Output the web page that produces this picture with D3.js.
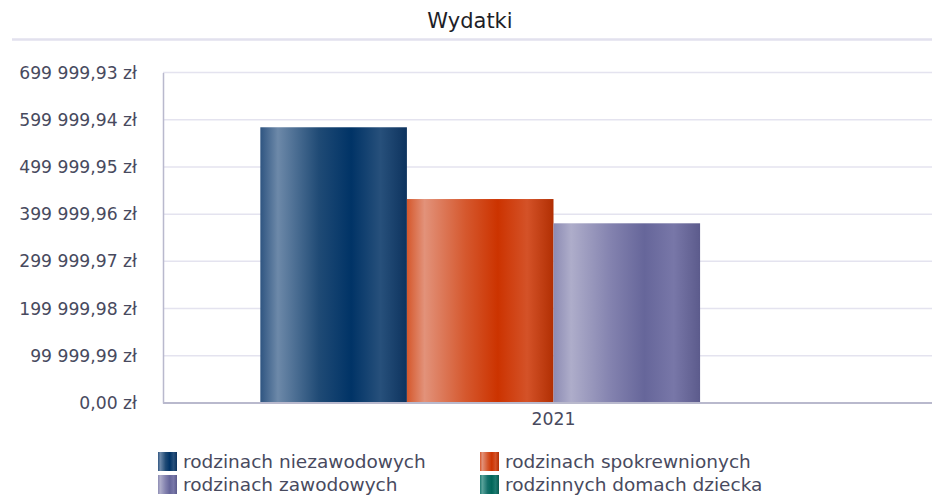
<!DOCTYPE html>
<html>
<head>
<meta charset="utf-8">
<script src="https://cdn.jsdelivr.net/npm/d3@7"></script>
<style>
  body { margin: 0; background: #fff; }
  svg { font-family: "DejaVu Sans", "Open Sans", sans-serif; }
</style>
</head>
<body>
<script>
const categories = ['2021'];
const seriesNames = ['rodzinach niezawodowych', 'rodzinach spokrewnionych', 'rodzinach zawodowych', 'rodzinnych domach dziecka'];
const values2021 = [584000, 432000, 380600, 0];
const yTicks = [0, 99999.99, 199999.98, 299999.97, 399999.96, 499999.95, 599999.94, 699999.93];

// gradient stops per series (left -> right)
const palette = [
  ['#2f5581', '#6d89a9', '#1f4a75', '#003366', '#27507b', '#0d335e'],
  ['#d5582c', '#e2927a', '#d5582e', '#cc3300', '#d45228', '#b12f03'],
  ['#8c8bb3', '#aeadca', '#8281ae', '#66669a', '#7877a8', '#5c5b8c'],
  ['#1e7a72', '#5aa39b', '#15706a', '#006659', '#1d7a70', '#0a5a50']
];
const stopAt = [0, 0.12, 0.4, 0.62, 0.82, 1];

const w = 932, h = 500;
const plotL = 163, plotR = 944, plotT = 72.5, plotB = 403;
const font = '"DejaVu Sans", sans-serif';

const pl = d3.formatLocale({decimal: ',', thousands: '\u00a0', grouping: [3], currency: ['', '\u00a0zł']});
const fmt = pl.format('$,.2f');

const svg = d3.select('body').append('svg')
  .attr('width', w)
  .attr('height', h);

const defs = svg.append('defs');
palette.forEach((cols, i) => {
  const g = defs.append('linearGradient')
    .attr('id', 'grad' + i)
    .attr('x1', '0%').attr('x2', '100%').attr('y1', '0%').attr('y2', '0%');
  cols.forEach((c, j) => {
    g.append('stop').attr('offset', (stopAt[j] * 100) + '%').attr('stop-color', c);
  });
});

// title
svg.append('text')
  .attr('x', 470).attr('y', 28)
  .attr('text-anchor', 'middle')
  .attr('font-size', 21)
  .attr('fill', '#1e1e28')
  .text('Wydatki');
svg.append('line')
  .attr('x1', 12).attr('x2', w)
  .attr('y1', 39.5).attr('y2', 39.5)
  .attr('stroke', '#e2e1ee').attr('stroke-width', 2.5);

const yScale = d3.scaleLinear()
  .domain([0, 699999.93])
  .range([plotB, plotT]);

const xScale = d3.scaleBand()
  .domain(categories)
  .range([plotL, plotR])
  .paddingOuter(0.166);

const xSeries = d3.scaleBand()
  .domain(seriesNames)
  .range([0, xScale.bandwidth()]);

// grid
svg.append('g')
  .selectAll('line')
  .data(yTicks.slice(1))
  .enter()
  .append('line')
  .attr('x1', plotL).attr('x2', w)
  .attr('y1', d => yScale(d)).attr('y2', d => yScale(d))
  .attr('stroke', '#e4e3ef')
  .attr('stroke-width', 1.5);

// y axis
const yAxis = d3.axisLeft(yScale)
  .tickValues(yTicks)
  .tickFormat(fmt)
  .tickSize(0)
  .tickPadding(26);
const gy = svg.append('g')
  .attr('transform', 'translate(' + plotL + ',0)')
  .call(yAxis)
  .attr('font-family', font);
gy.select('.domain').attr('stroke', '#b9b9cd').attr('stroke-width', 1.5);
gy.selectAll('text')
  .attr('font-size', 17.2)
  .attr('fill', '#484a5e');

// bars
const gBars = svg.append('g');
categories.forEach((cat, ci) => {
  const vals = [values2021][ci];
  gBars.selectAll('rect.s' + ci)
    .data(vals)
    .enter()
    .append('rect')
    .attr('x', (d, i) => xScale(cat) + xSeries(seriesNames[i]))
    .attr('y', d => yScale(d))
    .attr('width', xSeries.bandwidth())
    .attr('height', d => plotB - yScale(d))
    .attr('fill', (d, i) => 'url(#grad' + i + ')');
});

// x axis
const xAxis = d3.axisBottom(xScale).tickSize(0).tickPadding(10);
const gx = svg.append('g')
  .attr('transform', 'translate(0,' + plotB + ')')
  .call(xAxis)
  .attr('font-family', font);
gx.select('.domain').remove();
gx.append('line')
  .attr('x1', plotL).attr('x2', w)
  .attr('stroke', '#b9b9cd').attr('stroke-width', 2);
gx.selectAll('text')
  .attr('font-size', 17.3)
  .attr('fill', '#484a5e');

// legend
const legend = svg.append('g');
const items = legend.selectAll('g')
  .data(seriesNames)
  .enter()
  .append('g')
  .attr('transform', (d, i) => 'translate(' + (i % 2 ? 480 : 158) + ',' + (452 + Math.floor(i / 2) * 23) + ')');
items.append('rect')
  .attr('width', 19).attr('height', 19)
  .attr('fill', (d, i) => 'url(#grad' + i + ')');
items.append('text')
  .attr('x', 25).attr('y', 16)
  .attr('font-size', 18.5)
  .attr('fill', '#484a5e')
  .text(d => d);
</script>
</body>
</html>
